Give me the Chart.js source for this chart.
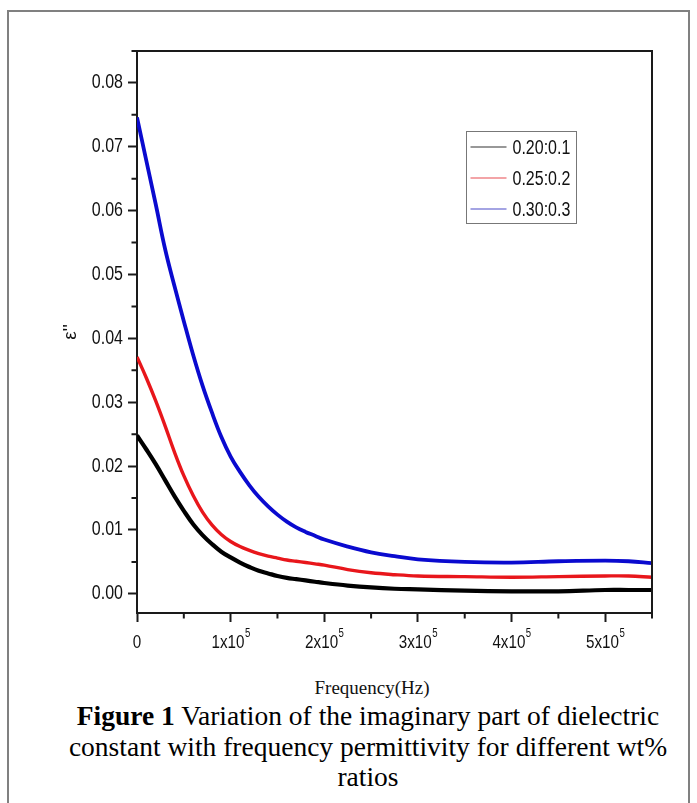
<!DOCTYPE html>
<html>
<head>
<meta charset="utf-8">
<script src="https://cdn.jsdelivr.net/npm/chart.js@4.4.0/dist/chart.umd.min.js"></script>
<style>
  html, body { margin: 0; padding: 0; background: #fff; }
  body { width: 697px; height: 803px; position: relative; overflow: hidden; }
  #frame { position: absolute; left: 7px; top: 10px; width: 683px; height: 830px; border: 2px solid #808080; box-sizing: border-box; }
  #wrap { position: absolute; left: 0; top: 0; width: 697px; height: 660px; }
  #xTitle { position: absolute; left: 272px; width: 200px; top: 677px; text-align: center; font: 19px 'Liberation Serif', 'Times New Roman', serif; color: #111; }
  #caption { position: absolute; left: 18px; width: 700px; top: 701px; text-align: center; white-space: nowrap; font: 27.5px/30.5px 'Liberation Serif', 'Times New Roman', serif; color: #000; }
</style>
</head>
<body>
<div id="frame"></div>
<div id="wrap"><canvas id="chart"></canvas></div>
<div id="xTitle">Frequency(Hz)</div>
<div id="caption"><b>Figure 1</b> Variation of the imaginary part of dielectric<br>constant with frequency permittivity for different wt%<br>ratios</div>
<script>
// data
var freq = [0, 10000, 20000, 30000, 40000, 50000, 60000, 70000, 80000, 90000, 100000,
  110000, 120000, 130000, 140000, 150000, 160000, 170000, 180000, 190000, 200000,
  225000, 250000, 275000, 300000, 350000, 400000, 450000, 500000, 525000, 550000];
var eps020 = [0.0248, 0.0226, 0.0203, 0.0178, 0.0153, 0.0130, 0.0109, 0.0092, 0.0078, 0.0066, 0.0057,
  0.0049, 0.0042, 0.0036, 0.0032, 0.0028, 0.0025, 0.0023, 0.0021, 0.0019, 0.0017,
  0.0013, 0.0010, 0.0008, 0.0007, 0.0005, 0.0004, 0.0004, 0.0006, 0.0006, 0.0006];
var eps025 = [0.0371, 0.0338, 0.0302, 0.0263, 0.0222, 0.0185, 0.0154, 0.0128, 0.0108, 0.0093, 0.0082,
  0.0074, 0.0068, 0.0063, 0.0059, 0.0056, 0.0053, 0.0051, 0.0049, 0.0047, 0.0045,
  0.0038, 0.0033, 0.0030, 0.0028, 0.0027, 0.0026, 0.0027, 0.0028, 0.0028, 0.0026];
var eps030 = [0.0746, 0.0678, 0.0610, 0.0540, 0.0482, 0.0427, 0.0374, 0.0326, 0.0284, 0.0246, 0.0215,
  0.0191, 0.0170, 0.0152, 0.0137, 0.0124, 0.0113, 0.0104, 0.0097, 0.0091, 0.0085,
  0.0074, 0.0065, 0.0059, 0.0054, 0.0050, 0.0049, 0.0051, 0.0052, 0.0051, 0.0048];
var seriesLabels = ['0.20:0.1', '0.25:0.2', '0.30:0.3'];
var seriesColors = ['#000000', '#e8161b', '#0a0acf'];
var seriesWidths = [4.2, 3.4, 3.8];
var legendColors = ['#333333', '#e84a50', '#4a4ac8'];

var yTicks = [0, 0.01, 0.02, 0.03, 0.04, 0.05, 0.06, 0.07, 0.08];
var yTickLabels = ['0.00', '0.01', '0.02', '0.03', '0.04', '0.05', '0.06', '0.07', '0.08'];
var yMinor = [0.005, 0.015, 0.025, 0.035, 0.045, 0.055, 0.065, 0.075, 0.085];
var xTicks = [0, 100000, 200000, 300000, 400000, 500000];
var xMinor = [50000, 150000, 250000, 350000, 450000, 550000];
var xTickBase = ['0', '1x10', '2x10', '3x10', '4x10', '5x10'];
var xTickSup = ['', '5', '5', '5', '5', '5'];

var SANS = "'Liberation Sans', Arial, sans-serif";
var SQUEEZE = 0.8;   // Arial Narrow look
var AXIS = '#1a1a1a';

function pts(arr) {
  return freq.map(function (f, i) { return { x: f, y: arr[i] }; });
}

// condensed text helper
function narrowText(ctx, txt, x, y, size, align) {
  ctx.save();
  ctx.translate(x, y);
  ctx.scale(SQUEEZE, 1);
  ctx.font = size + 'px ' + SANS;
  ctx.textAlign = align || 'left';
  ctx.textBaseline = 'middle';
  ctx.fillText(txt, 0, 0);
  ctx.restore();
}
function narrowWidth(ctx, txt, size) {
  ctx.font = size + 'px ' + SANS;
  return ctx.measureText(txt).width * SQUEEZE;
}

// frame on top/right, minor ticks, tick labels, legend
var framePlugin = {
  id: 'frame',
  afterDraw: function (chart) {
    var ctx = chart.ctx, a = chart.chartArea;
    var xs = chart.scales.x, ys = chart.scales.y;
    ctx.save();
    ctx.strokeStyle = AXIS;
    ctx.lineWidth = 2;
    ctx.beginPath();
    ctx.moveTo(a.left, a.top); ctx.lineTo(a.right, a.top); ctx.lineTo(a.right, a.bottom);
    ctx.stroke();
    ctx.beginPath();
    yMinor.forEach(function (v) {
      var py = ys.getPixelForValue(v);
      ctx.moveTo(a.left, py); ctx.lineTo(a.left - 5.5, py);
    });
    xMinor.forEach(function (v) {
      var px = xs.getPixelForValue(v);
      ctx.moveTo(px, a.bottom); ctx.lineTo(px, a.bottom + 5.5);
    });
    ctx.stroke();

    ctx.fillStyle = '#111';
    yTicks.forEach(function (v, i) {
      narrowText(ctx, yTickLabels[i], a.left - 14, ys.getPixelForValue(v), 20, 'right');
    });
    xTicks.forEach(function (v, i) {
      var px = xs.getPixelForValue(v);
      var wb = narrowWidth(ctx, xTickBase[i], 19);
      var ws = narrowWidth(ctx, xTickSup[i], 12);
      var x0 = px - (wb + ws) / 2;
      narrowText(ctx, xTickBase[i], x0, a.bottom + 30, 19, 'left');
      narrowText(ctx, xTickSup[i], x0 + wb + 0.5, a.bottom + 21, 12, 'left');
    });

    // legend box
    var lx = 466.5, ly = 131.5, lw = 110, lh = 92;
    ctx.strokeStyle = '#777';
    ctx.lineWidth = 1;
    ctx.strokeRect(lx, ly, lw, lh);
    chart.data.datasets.forEach(function (ds, i) {
      var ry = 147 + i * 31;
      ctx.strokeStyle = legendColors[i];
      ctx.lineWidth = 1.2;
      ctx.beginPath();
      ctx.moveTo(lx + 4, ry); ctx.lineTo(lx + 40, ry);
      ctx.stroke();
      ctx.fillStyle = '#111';
      narrowText(ctx, ds.label, lx + 46, ry + 1, 20, 'left');
    });
    ctx.restore();
  }
};

new Chart(document.getElementById('chart'), {
  type: 'line',
  data: {
    datasets: seriesLabels.map(function (lab, i) {
      return {
        label: lab,
        data: pts([eps020, eps025, eps030][i]),
        borderColor: seriesColors[i],
        borderWidth: seriesWidths[i],
        pointRadius: 0, fill: false, tension: 0.4
      };
    })
  },
  options: {
    responsive: true, maintainAspectRatio: false, animation: false,
    layout: { padding: { top: 51, right: 45, left: 0, bottom: 0 } },
    plugins: { legend: { display: false }, tooltip: { enabled: false } },
    scales: {
      x: {
        type: 'linear', min: 0, max: 550000,
        afterBuildTicks: function (s) { s.ticks = xTicks.map(function (v) { return { value: v }; }); },
        afterFit: function (s) { s.height = 47; },
        border: { color: AXIS, width: 2 },
        grid: { drawOnChartArea: false, drawTicks: true, tickLength: 9, tickWidth: 2, tickColor: AXIS },
        ticks: { callback: function () { return ''; } }
      },
      y: {
        min: -0.003, max: 0.085,
        afterBuildTicks: function (s) { s.ticks = yTicks.map(function (v) { return { value: v }; }); },
        afterFit: function (s) { s.width = 137; },
        border: { color: AXIS, width: 2 },
        grid: { drawOnChartArea: false, drawTicks: true, tickLength: 9, tickWidth: 2, tickColor: AXIS },
        ticks: { callback: function () { return ''; } },
        title: {
          display: true, text: "\u03b5''", color: '#111',
          font: { family: "'Liberation Sans', sans-serif", size: 19 },
          padding: { top: 59, bottom: 0 }
        }
      }
    }
  },
  plugins: [framePlugin]
});
</script>
</body>
</html>
